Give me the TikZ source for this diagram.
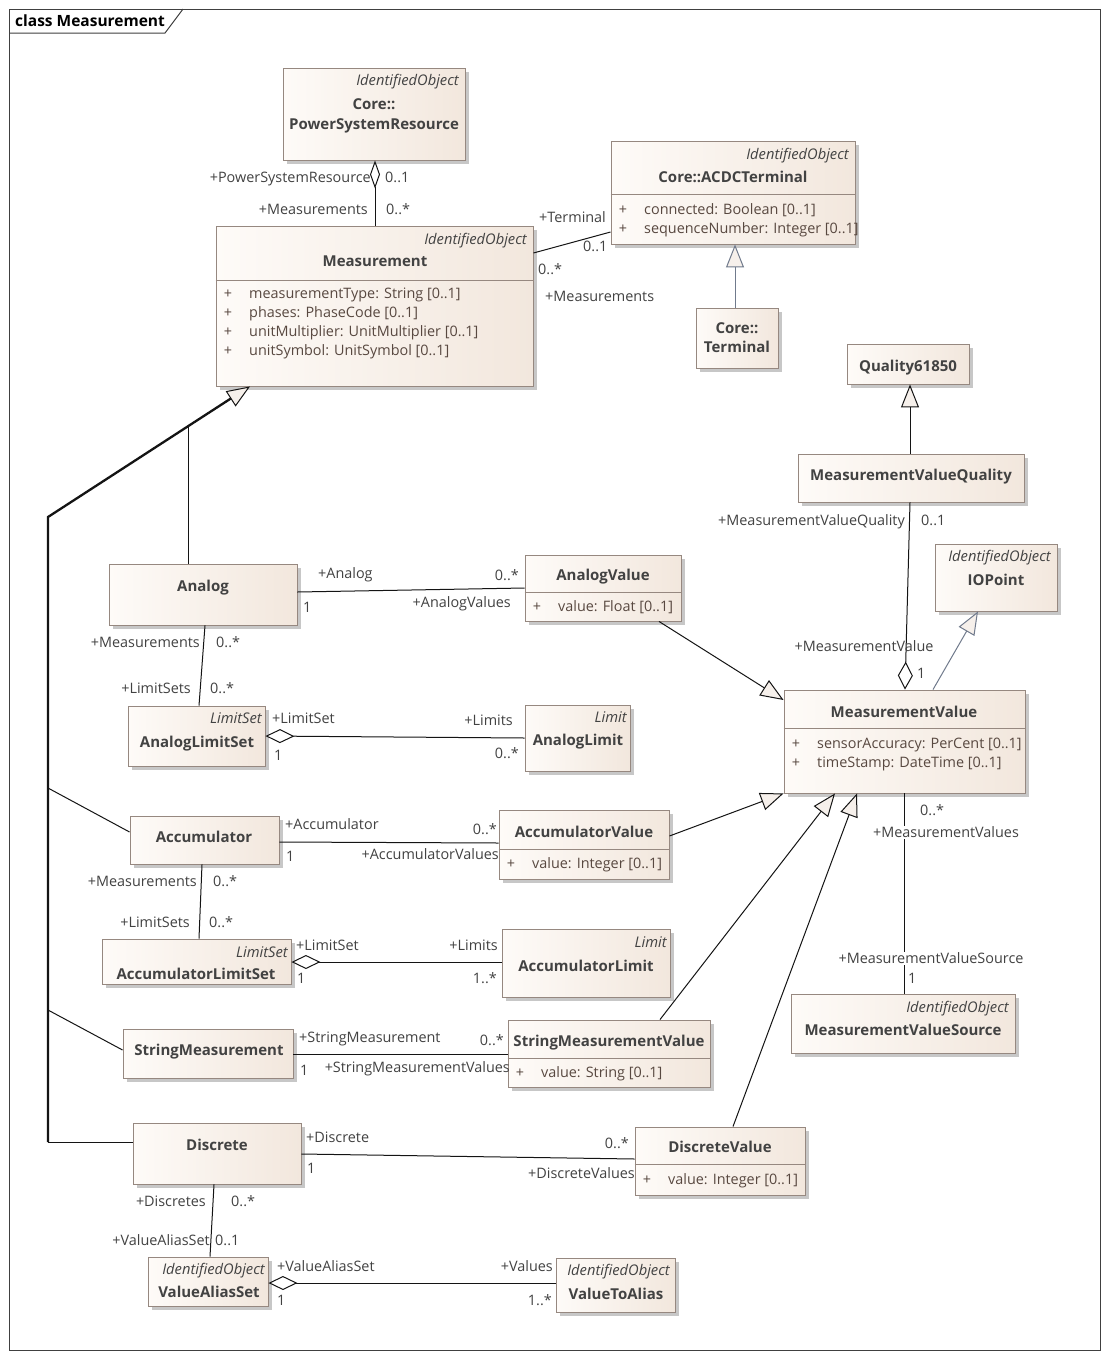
\documentclass[tikz,border=0pt]{standalone}
\usepackage{fontspec}
\setmainfont{Open Sans}
\usetikzlibrary{arrows.meta,shadows,fit}
\definecolor{txt}{RGB}{66,66,66}
\definecolor{attrc}{RGB}{88,72,64}
\definecolor{bord}{RGB}{150,136,128}
\definecolor{fillL}{RGB}{254,251,248}
\definecolor{fillR}{RGB}{242,231,221}
\definecolor{trif}{RGB}{246,240,235}
\definecolor{genblue}{RGB}{112,122,140}
\definecolor{linec}{RGB}{20,20,20}
\begin{document}
\begin{tikzpicture}[x=1pt,y=-1pt,
  every node/.style={text=txt, inner sep=0pt, font=\fontsize{14.4}{17}\selectfont},
  cls/.style={draw=bord, line width=0.9pt, left color=fillL, right color=fillR,
    drop shadow={shadow xshift=3.5pt, shadow yshift=-3.5pt, fill=black, opacity=0.22},
    inner sep=0pt},
  tx/.style={yshift=-3pt},
  ster/.style={tx, font=\fontsize{14.7}{17}\selectfont\itshape, anchor=mid east},
  cname/.style={tx, font=\fontsize{15}{18}\selectfont\bfseries, anchor=mid},
  attr/.style={tx, text=attrc, anchor=mid west},
  plus/.style={tx, text=attrc, anchor=mid},
  lblw/.style={tx, anchor=mid west},
  lble/.style={tx, anchor=mid east},
  lblm/.style={tx, anchor=mid},
  lblc/.style={tx, anchor=mid, fill=white, inner sep=1pt},
  sepline/.style={draw=bord, line width=0.9pt},
  conn/.style={draw=linec, line width=1pt},
  gen/.style={conn, -{Triangle[length=23pt,width=18pt,fill=trif]}},
  agg/.style={conn, {Diamond[length=29pt,width=14pt,fill=white]}-},
]
\useasboundingbox (0,0) rectangle (1108,1358);
\fill[white] (0,0) rectangle (1108,1358);
% frame
\draw[line width=1pt, black!75] (9,9) rectangle (1100,1350);
\draw[line width=1pt, black!75] (9,33) -- (165,33) -- (183,9);
\node[tx, anchor=mid west, text=black, font=\fontsize{15.5}{18}\selectfont\bfseries] (frametitle) at (15,21) {class Measurement};

% ---------- boxes ----------
\node[cls, fit={(283,68) (465,160)}] (psr) {};
\node[cls, fit={(216,226) (533,386)}] (meas) {};
\node[cls, fit={(611,141) (855,244)}] (acdc) {};
\node[cls, fit={(696,308) (778,368)}] (term) {};
\node[cls, fit={(847,344) (969,384)}] (q61850) {};
\node[cls, fit={(798,454) (1024,502)}] (mvq) {};
\node[cls, fit={(935,544) (1057,611)}] (iop) {};
\node[cls, fit={(784,690) (1025,793)}] (mv) {};
\node[cls, fit={(109,564) (297,625)}] (analog) {};
\node[cls, fit={(525,555) (681,621)}] (av) {};
\node[cls, fit={(128,706) (265,766)}] (als) {};
\node[cls, fit={(525,705) (630,771)}] (al) {};
\node[cls, fit={(130,816) (279,864)}] (acc) {};
\node[cls, fit={(499,810) (669,879)}] (accv) {};
\node[cls, fit={(102,939) (291,984)}] (accls) {};
\node[cls, fit={(502,929) (670,997)}] (accl) {};
\node[cls, fit={(123,1029) (293,1078)}] (sm) {};
\node[cls, fit={(508,1020) (710,1087)}] (smv) {};
\node[cls, fit={(133,1123) (301,1184)}] (disc) {};
\node[cls, fit={(635,1127) (805,1195)}] (dv) {};
\node[cls, fit={(791,994) (1015,1053)}] (mvs) {};
\node[cls, fit={(148,1257) (268,1306)}] (vas) {};
\node[cls, fit={(556,1258) (675,1312)}] (vta) {};

% separators
\draw[sepline] (meas.west |- 0,280) -- (meas.east |- 0,280);
\draw[sepline] (acdc.west |- 0,194) -- (acdc.east |- 0,194);
\draw[sepline] (mv.west |- 0,728) -- (mv.east |- 0,728);
\draw[sepline] (av.west |- 0,592) -- (av.east |- 0,592);
\draw[sepline] (accv.west |- 0,849) -- (accv.east |- 0,849);
\draw[sepline] (smv.west |- 0,1058) -- (smv.east |- 0,1058);
\draw[sepline] (dv.west |- 0,1164) -- (dv.east |- 0,1164);

% ---------- box texts ----------
\node[ster] (psr-s) at (459,80) {IdentifiedObject};
\node[cname] (psr-n1) at (374,104) {Core::};
\node[cname] (psr-n2) at (374,124) {PowerSystemResource};

\node[ster] (meas-s) at (527,239) {IdentifiedObject};
\node[cname] (meas-n) at (375,261) {Measurement};
\node[plus] (meas-p1) at (228,293) {+};
\node[attr] (meas-a1) at (249,293) {measurementType: String [0..1]};
\node[plus] (meas-p2) at (228,312) {+};
\node[attr] (meas-a2) at (249,312) {phases: PhaseCode [0..1]};
\node[plus] (meas-p3) at (228,331) {+};
\node[attr] (meas-a3) at (249,331) {unitMultiplier: UnitMultiplier [0..1]};
\node[plus] (meas-p4) at (228,350) {+};
\node[attr] (meas-a4) at (249,350) {unitSymbol: UnitSymbol [0..1]};

\node[ster] (acdc-s) at (849,154) {IdentifiedObject};
\node[cname] (acdc-n) at (733,177) {Core::ACDCTerminal};
\node[plus] (acdc-p1) at (623,209) {+};
\node[attr] (acdc-a1) at (644,209) {connected: Boolean [0..1]};
\node[plus] (acdc-p2) at (623,228) {+};
\node[attr] (acdc-a2) at (644,228) {sequenceNumber: Integer [0..1]};

\node[cname] (term-n1) at (737,328) {Core::};
\node[cname] (term-n2) at (737,347) {Terminal};

\node[cname] (q-n) at (908,366) {Quality61850};
\node[cname] (mvq-n) at (911,475) {MeasurementValueQuality};

\node[ster] (iop-s) at (1051,556) {IdentifiedObject};
\node[cname] (iop-n) at (996,580) {IOPoint};

\node[cname] (mv-n) at (904,712) {MeasurementValue};
\node[plus] (mv-p1) at (796,743) {+};
\node[attr] (mv-a1) at (817,743) {sensorAccuracy: PerCent [0..1]};
\node[plus] (mv-p2) at (796,762) {+};
\node[attr] (mv-a2) at (817,762) {timeStamp: DateTime [0..1]};

\node[cname] (analog-n) at (203,586) {Analog};

\node[cname] (av-n) at (603,575) {AnalogValue};
\node[plus] (av-p1) at (537,606) {+};
\node[attr] (av-a1) at (558,606) {value: Float [0..1]};

\node[ster] (als-s) at (262,718) {LimitSet};
\node[cname] (als-n) at (197,742) {AnalogLimitSet};

\node[ster] (al-s) at (627,717) {Limit};
\node[cname] (al-n) at (578,740) {AnalogLimit};

\node[cname] (acc-n) at (204,837) {Accumulator};

\node[cname] (accv-n) at (584,832) {AccumulatorValue};
\node[plus] (accv-p1) at (511,863) {+};
\node[attr] (accv-a1) at (532,863) {value: Integer [0..1]};

\node[ster] (accls-s) at (288,952) {LimitSet};
\node[cname] (accls-n) at (196,974) {AccumulatorLimitSet};

\node[ster] (accl-s) at (667,942) {Limit};
\node[cname] (accl-n) at (586,966) {AccumulatorLimit};

\node[cname] (sm-n) at (209,1050) {StringMeasurement};

\node[cname] (smv-n) at (609,1041) {StringMeasurementValue};
\node[plus] (smv-p1) at (520,1072) {+};
\node[attr] (smv-a1) at (541,1072) {value: String [0..1]};

\node[cname] (disc-n) at (217,1145) {Discrete};

\node[cname] (dv-n) at (720,1147) {DiscreteValue};
\node[plus] (dv-p1) at (647,1179) {+};
\node[attr] (dv-a1) at (668,1179) {value: Integer [0..1]};

\node[ster] (mvs-s) at (1009,1007) {IdentifiedObject};
\node[cname] (mvs-n) at (903,1030) {MeasurementValueSource};

\node[ster] (vas-s) at (265,1269) {IdentifiedObject};
\node[cname] (vas-n) at (209,1292) {ValueAliasSet};

\node[ster] (vta-s) at (670,1270) {IdentifiedObject};
\node[cname] (vta-n) at (616,1294) {ValueToAlias};

% ---------- connectors ----------
% PSR - Measurement
\draw[conn, {Diamond[length=28pt,width=10pt,fill=white]}-] (psr.south -| 375,0) -- (meas.north -| 375,0);
% Measurement - ACDCTerminal
\draw[conn] (meas.east |- 0,253) -- (acdc.west |- 0,232);
% Terminal -> ACDCTerminal
\draw[gen, draw=genblue] (term.north -| 735,0) -- (acdc.south -| 735,0);
% MVQ -> Quality61850
\draw[gen] (mvq.north -| 910,0) -- (q61850.south -| 910,0);
% MV <>- MVQ
\draw[conn, {Diamond[length=28pt,width=15pt,fill=white]}-] (mv.north -| 905,0) -- (mvq.south -| 910,0);
% MV -> IOPoint
\draw[gen, draw=genblue] (mv.north -| 933,0) -- (iop.south -| 978,0);

% generalization tree to Measurement
\coordinate (tk1) at (48,1142);
\coordinate (tk2) at (48,517);
\coordinate (tk3) at (188,426.2);
\coordinate (tkb) at (230.8,398.5);
\coordinate (tkacc) at (48,788);
\coordinate (tksm) at (48,1010);
\draw[draw=linec, line width=2.3pt, line join=miter] (tk1) -- (tk2) -- (tkb);
\draw[gen] (tk3) -- (meas.south -| 250,0);
\draw[conn] (analog.north -| 188,0) -- (tk3);
\draw[conn] (acc.west |- 0,832) -- (tkacc);
\draw[conn] (sm.west |- 0,1050) -- (tksm);
\draw[conn] (disc.west |- 0,1142) -- (tk1);

% Analog - AnalogValue
\draw[conn] (analog.east |- 0,592) -- (av.west |- 0,588);
% AnalogValue -> MV
\draw[gen] (av.south -| 659,0) -- (mv.west |- 0,700);
% Analog - AnalogLimitSet
\draw[conn] (analog.south -| 205,0) -- (als.north -| 199,0);
% AnalogLimitSet <>- AnalogLimit
\draw[agg] (als.east |- 0,736) -- (al.west |- 0,738);
% Accumulator - AccumulatorValue
\draw[conn] (acc.east |- 0,842) -- (accv.west |- 0,843);
% AccumulatorValue -> MV
\draw[gen] (accv.east |- 0,836) -- (mv.south west);
% Accumulator - AccumulatorLimitSet
\draw[conn] (acc.south -| 202,0) -- (accls.north -| 199,0);
% AccumulatorLimitSet <>- AccumulatorLimit
\draw[agg] (accls.east |- 0,962) -- (accl.west |- 0,962);
% StringMeasurement - SMV
\draw[conn] (sm.east |- 0,1054) -- (smv.west |- 0,1054);
% SMV -> MV
\draw[gen] (smv.north -| 660,0) -- (mv.south -| 835,0);
% Discrete - DiscreteValue
\draw[conn] (disc.east |- 0,1154) -- (dv.west |- 0,1159);
% DiscreteValue -> MV
\draw[gen] (dv.north -| 733,0) -- (mv.south -| 857,0);
% Discrete - ValueAliasSet
\draw[conn] (disc.south -| 214,0) -- (vas.north -| 210,0);
% ValueAliasSet <>- ValueToAlias
\draw[agg] (vas.east |- 0,1283) -- (vta.west |- 0,1283);
% MV - MVSource
\draw[conn] (mv.south -| 904,0) -- (mvs.north -| 904,0);

% ---------- connector labels ----------
\node[lble] (l1) at (371,177) {+PowerSystemResource};
\node[lblw] (l2) at (385,177) {0..1};
\node[lble] (l3) at (368,209) {+Measurements};
\node[lblw] (l4) at (386,209) {0..*};

\node[lblw] (l5) at (539,217) {+Terminal};
\node[lblw] (l6) at (583,246) {0..1};
\node[lblw] (l7) at (538,269) {0..*};
\node[lblw] (l8) at (545,296) {+Measurements};

\node[lble] (l9) at (905,520) {+MeasurementValueQuality};
\node[lblw] (l10) at (921,520) {0..1};
\node[lblm] (l11) at (864,646) {+MeasurementValue};
\node[lblw] (l12) at (917,673) {1};

\node[lblw] (l13) at (318,573) {+Analog};
\node[lblw] (l14) at (303,607) {1};
\node[lble] (l15) at (519,575) {0..*};
\node[lble] (l16) at (511,602) {+AnalogValues};

\node[lble] (l17) at (200,642) {+Measurements};
\node[lblw] (l18) at (216,642) {0..*};
\node[lble] (l19) at (191,688) {+LimitSets};
\node[lblw] (l20) at (210,688) {0..*};

\node[lblw] (l21) at (272,718) {+LimitSet};
\node[lblw] (l22) at (274,755) {1};
\node[lble] (l23) at (513,720) {+Limits};
\node[lble] (l24) at (519,753) {0..*};

\node[lblw] (l25) at (285,824) {+Accumulator};
\node[lblw] (l26) at (286,856) {1};
\node[lble] (l27) at (497,829) {0..*};
\node[lble] (l28) at (499,854) {+AccumulatorValues};

\node[lble] (l29) at (197,881) {+Measurements};
\node[lblw] (l30) at (213,881) {0..*};
\node[lble] (l31) at (190,922) {+LimitSets};
\node[lblw] (l32) at (209,922) {0..*};

\node[lblw] (l33) at (296,945) {+LimitSet};
\node[lblw] (l34) at (297,978) {1};
\node[lble] (l35) at (498,945) {+Limits};
\node[lble] (l36) at (497,978) {1..*};

\node[lblw] (l37) at (299,1037) {+StringMeasurement};
\node[lblw] (l38) at (300,1070) {1};
\node[lble] (l39) at (504,1040) {0..*};
\node[lble] (l40) at (510,1067) {+StringMeasurementValues};

\node[lblw] (l41) at (306,1137) {+Discrete};
\node[lblw] (l42) at (307,1168) {1};
\node[lble] (l43) at (629,1143) {0..*};
\node[lble] (l44) at (635,1173) {+DiscreteValues};

\node[lble] (l45) at (206,1201) {+Discretes};
\node[lblw] (l46) at (231,1201) {0..*};
\node[lble] (l47) at (210,1240) {+ValueAliasSet};
\node[lblw] (l48) at (215,1240) {0..1};

\node[lblw] (l49) at (277,1266) {+ValueAliasSet};
\node[lblw] (l50) at (277,1300) {1};
\node[lble] (l51) at (553,1266) {+Values};
\node[lble] (l52) at (552,1300) {1..*};

\node[lblw] (l53) at (920,810) {0..*};
\node[lblc] (l54) at (946,832) {+MeasurementValues};
\node[lblc] (l55) at (931,958) {+MeasurementValueSource};
\node[lblw] (l56) at (908,978) {1};
\end{tikzpicture}
\end{document}
